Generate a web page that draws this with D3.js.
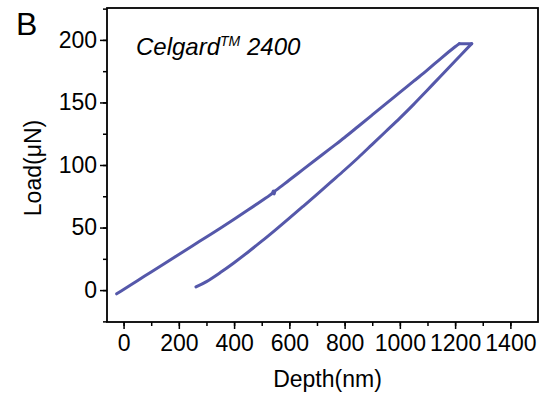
<!DOCTYPE html>
<html>
<head>
<meta charset="utf-8">
<script src="https://cdn.jsdelivr.net/npm/d3@7"></script>
<style>
  html, body { margin: 0; padding: 0; background: #fff; }
  svg { display: block; font-family: "Liberation Sans", Arial, sans-serif; }
</style>
</head>
<body>
<div id="chart"></div>
<script>
// loading segment (depth nm, load µN)
const loadDepth = [-25, 0, 50, 100, 150, 200, 250, 300, 350, 400, 450, 500, 538, 542, 545, 548, 555, 600, 650, 700, 750, 800, 850, 900, 950, 1000, 1050, 1100, 1150, 1200, 1215];
const loadForce = [-3, 0.5, 7.5, 14.5, 21.5, 28.5, 35.5, 42.5, 49.5, 56.7, 64, 71.5, 77.5, 79.2, 76.8, 79.2, 80.3, 88, 96.5, 105, 113.5, 122, 131, 140, 149, 158, 167, 176, 185.5, 194.5, 197];
// hold segment
const holdDepth = [1215, 1260];
const holdForce = [197, 197];
// unloading segment
const unloadDepth = [1260, 1200, 1150, 1100, 1050, 1000, 950, 900, 850, 800, 750, 700, 650, 600, 550, 500, 450, 400, 350, 300, 262];
const unloadForce = [197, 183.2, 171.5, 160, 148.5, 137.5, 127, 116.5, 106, 96, 86.3, 76.6, 67, 57.5, 48.2, 39.1, 30.3, 21.9, 14, 6.8, 2.5];

const xTicks = [0, 200, 400, 600, 800, 1000, 1200, 1400];
const yTicks = [0, 50, 100, 150, 200];

const W = 545, H = 400;
const margin = { top: 8, right: 7, bottom: 78, left: 107 };
const width = W - margin.left - margin.right,
  height = H - margin.top - margin.bottom;

const svg = d3.select('#chart').append('svg')
  .attr('width', W).attr('height', H);

const g = svg.append('g').attr('transform', `translate(${margin.left},${margin.top})`);

const x = d3.scaleLinear().domain([-60, 1500]).range([0, width]);
const y = d3.scaleLinear().domain([-25.5, 225.5]).range([height, 0]);

// minor ticks
g.append('g')
  .attr('transform', `translate(0,${height})`)
  .call(d3.axisBottom(x).tickValues(d3.range(0, 1500, 100)).tickSize(4).tickFormat(''))
  .call(a => a.select('.domain').remove())
  .selectAll('line').attr('stroke-width', 1.5);
g.append('g')
  .call(d3.axisLeft(y).tickValues(d3.range(-25, 226, 25)).tickSize(4).tickFormat(''))
  .call(a => a.select('.domain').remove())
  .selectAll('line').attr('stroke-width', 1.5);

// major ticks
const xa = g.append('g')
  .attr('transform', `translate(0,${height})`)
  .call(d3.axisBottom(x).tickValues(xTicks).tickSize(7).tickPadding(6).tickFormat(d3.format('d')))
  .call(a => a.select('.domain').remove());
xa.selectAll('line').attr('stroke-width', 1.5);
xa.selectAll('text').attr('font-size', 23).attr('fill', '#000')
  .attr('font-family', '"Liberation Sans", Arial, sans-serif');

const ya = g.append('g')
  .call(d3.axisLeft(y).tickValues(yTicks).tickSize(7).tickPadding(3).tickFormat(d3.format('d')))
  .call(a => a.select('.domain').remove());
ya.selectAll('line').attr('stroke-width', 1.5);
ya.selectAll('text').attr('font-size', 23).attr('fill', '#000')
  .attr('font-family', '"Liberation Sans", Arial, sans-serif');

// frame
g.append('rect')
  .attr('width', width).attr('height', height)
  .attr('fill', 'none').attr('stroke', '#000').attr('stroke-width', 1.8);

// curve segments
const segs = [
  [loadDepth, loadForce],
  [holdDepth, holdForce],
  [unloadDepth, unloadForce]
].map(([ds, fs]) => ds.map((d, i) => [d, fs[i]]));

const line = d3.line()
  .curve(d3.curveCatmullRom.alpha(0.5))
  .x(d => x(d[0])).y(d => y(d[1]));

g.selectAll('path.seg')
  .data(segs)
  .join('path')
  .attr('class', 'seg')
  .attr('fill', 'none')
  .attr('stroke', '#5558aa')
  .attr('stroke-width', 3)
  .attr('stroke-linejoin', 'round')
  .attr('stroke-linecap', 'round')
  .attr('d', line);

// labels
svg.append('text')
  .attr('x', 16).attr('y', 35)
  .attr('font-size', 32)
  .text('B');

const lbl = svg.append('text')
  .attr('x', 136).attr('y', 55)
  .attr('font-size', 24)
  .attr('font-style', 'italic');
lbl.append('tspan').text('Celgard');
lbl.append('tspan').attr('font-size', 14).attr('dy', -9).text('TM');
lbl.append('tspan').attr('dy', 9).text(' 2400');

svg.append('text')
  .attr('x', margin.left + width / 2 + 5).attr('y', 387)
  .attr('text-anchor', 'middle')
  .attr('font-size', 23)
  .text('Depth(nm)');

svg.append('text')
  .attr('transform', `translate(41,${margin.top + height / 2 + 3}) rotate(-90)`)
  .attr('text-anchor', 'middle')
  .attr('font-size', 23)
  .text('Load(μN)');
</script>
</body>
</html>
